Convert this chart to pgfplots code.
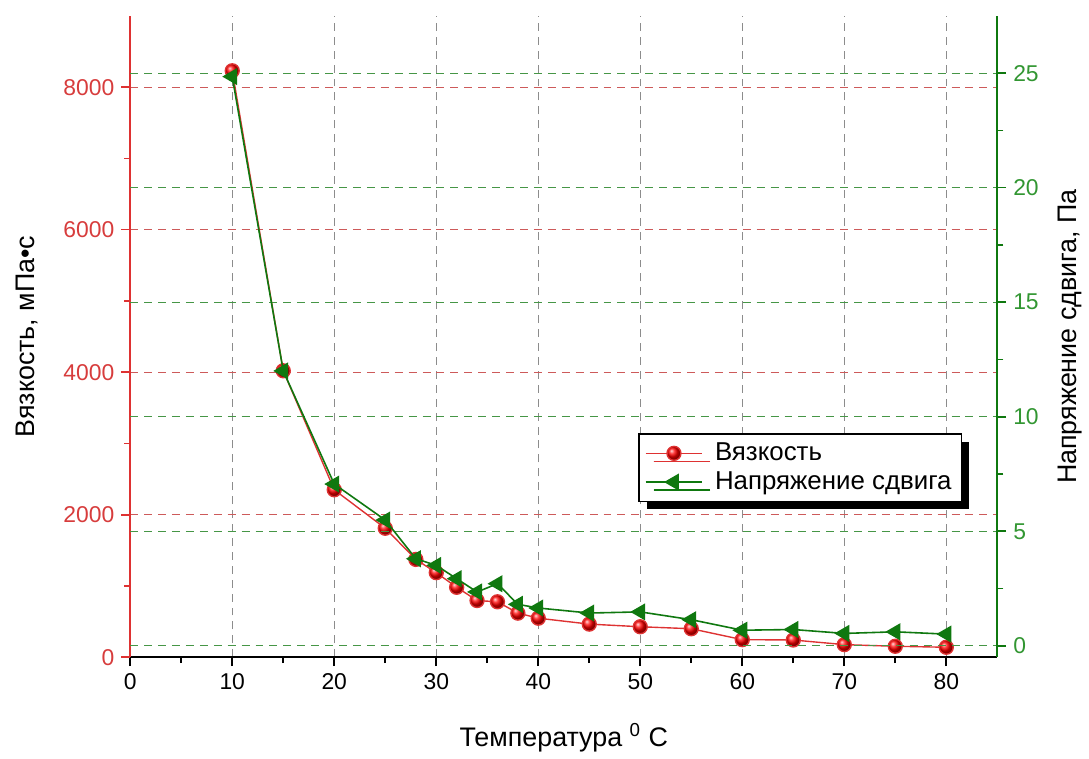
\documentclass[border=0pt]{standalone}
\usepackage{fontspec}
\setmainfont{Liberation Sans}
\usepackage{pgfplots}
\pgfplotsset{compat=1.18}
\usetikzlibrary{shadows}
\definecolor{vred}{RGB}{222,50,50}
\definecolor{vgreen}{RGB}{15,120,15}
\definecolor{gred}{RGB}{205,90,90}
\definecolor{ggreen}{RGB}{70,150,70}
\definecolor{ggray}{RGB}{140,140,140}
\definecolor{tred}{RGB}{215,60,60}
\definecolor{tgreen}{RGB}{50,150,50}
\pgfplotsset{
  common/.style={
    scale only axis, width=436pt, height=322.5pt,
    xmin=0, xmax=85,
    tick align=outside, major tick length=4.5pt, minor tick length=3pt,
    /pgf/number format/assume math mode=true,
    /pgf/number format/1000 sep={},
    scaled y ticks=false,
    label style={font=\fontsize{13.5}{16}\selectfont},
    tick label style={font=\fontsize{11.5}{13.5}\selectfont},
  },
  legend image code/.code={\draw[mark repeat=2,mark phase=2,#1] plot coordinates {(0cm,0cm) (0.5cm,0cm) (1cm,0cm)};},
}
\begin{document}
\begin{tikzpicture}
\begin{axis}[common,
  ymin=0, ymax=9000,
  axis x line*=bottom, axis y line*=left,
  xtick={0,10,...,80}, minor x tick num=1,
  ytick={0,2000,...,8000}, minor y tick num=1,
  x axis line style={black, line width=1pt, -},
  y axis line style={vred, line width=1pt, -},
  xtick style={black, line width=0.8pt},
  ytick style={vred, line width=0.8pt},
  yticklabel style={tred},
  xmajorgrids, ymajorgrids,
  major x grid style={ggray, line width=0.6pt, dash pattern=on 4pt off 3pt},
  major y grid style={gred, line width=0.6pt, dash pattern=on 4pt off 3pt},
  xlabel={Температура \textsuperscript{0} C},
  ylabel={Вязкость, мПа•с},
  xlabel style={yshift=-10pt},
  ylabel style={yshift=6pt},
]
\addplot[vred, line width=0.7pt, mark=ball, mark size=3.5pt, mark options={ball color=red}] coordinates {
(10,8230) (15,4020) (20,2350) (25,1810) (28,1373) (30,1187) (32,982) (34,796) (36,778) (38,619) (40,548)
(45,465) (50,428) (55,400) (60,247) (65,242) (70,177) (75,154) (80,140)
};
\end{axis}
\begin{axis}[common,
  ymin=-0.5, ymax=27.5,
  axis x line=none, axis y line*=right,
  ytick={0,5,...,25}, minor y tick num=1,
  y axis line style={vgreen, line width=1pt, -},
  ytick style={vgreen, line width=0.8pt},
  yticklabel style={tgreen},
  ymajorgrids,
  major y grid style={ggreen, line width=0.6pt, dash pattern=on 4pt off 3pt},
  ylabel={Напряжение сдвига, Па},
  ylabel style={yshift=-3pt},
  clip=false,
  legend style={at={(0.586,0.349)}, anchor=north west, draw=black, line width=0.6pt, fill=white,
    drop shadow={shadow xshift=4pt, shadow yshift=-4pt, fill=black, opacity=1},
    font=\fontsize{13}{15.5}\selectfont, inner xsep=3pt, inner ysep=2.5pt, row sep=0pt,
    /tikz/every odd column/.append style={column sep=4pt}},
  legend cell align=left,
]
\addlegendimage{vred, line width=0.7pt, mark=ball, mark size=3.5pt, mark options={ball color=red}}
\addlegendentry{Вязкость}
\addplot[vgreen, line width=0.8pt, mark=triangle*, mark size=4.2pt, mark options={rotate=90, fill=vgreen}] coordinates {
(10,24.85) (15,12.0) (20,7.06) (25,5.49) (28,3.80) (30,3.51) (32,2.93) (34,2.35) (36,2.71) (38,1.81) (40,1.65)
(45,1.43) (50,1.48) (55,1.14) (60,0.68) (65,0.71) (70,0.54) (75,0.61) (80,0.51)
};
\addlegendentry{Напряжение сдвига}
\path (rel axis cs:-0.1502,-0.1457) rectangle (rel axis cs:1.0986,1.0248);
\end{axis}
\end{tikzpicture}
\end{document}
